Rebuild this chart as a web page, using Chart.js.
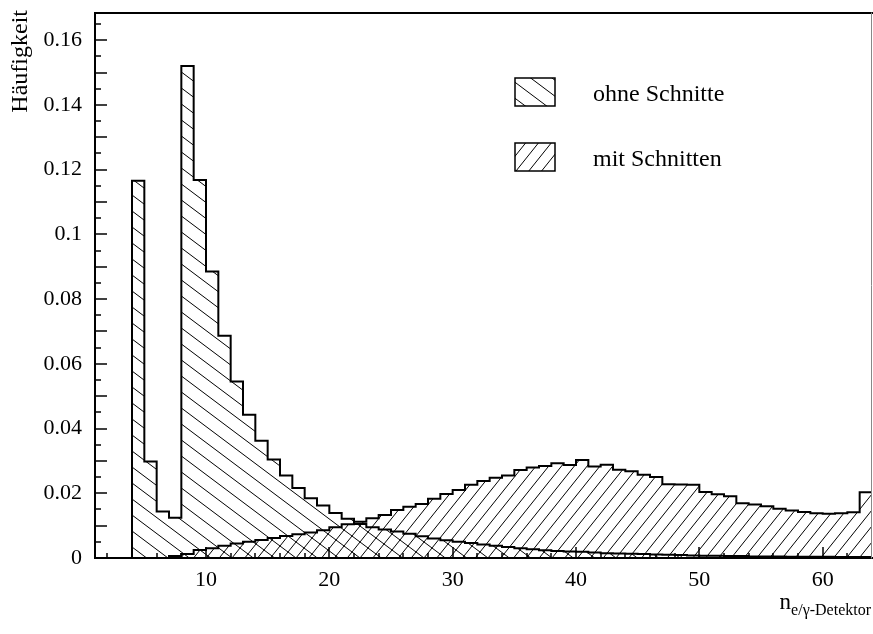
<!DOCTYPE html>
<html>
<head>
<meta charset="utf-8">
<script src="https://cdn.jsdelivr.net/npm/chart.js@4.4.0/dist/chart.umd.min.js"></script>
<style>
html,body{margin:0;padding:0;background:#fff;}
#wrap{width:873px;height:634px;position:relative;}
canvas{display:block;}
</style>
</head>
<body>
<div id="wrap"><canvas id="c" width="873" height="634"></canvas></div>
<script>
// ---- data (bin k covers [k, k+1]) ----
const ohneStart = 4;
const ohneValues = [
  0.1166, 0.0298, 0.0144, 0.0124, 0.152, 0.1168, 0.0885, 0.0687, 0.0545, 0.0443,
  0.0362, 0.0304, 0.0255, 0.0216, 0.0185, 0.0162, 0.0139, 0.0121, 0.0105, 0.0095,
  0.0088, 0.0082, 0.0075, 0.0067, 0.0060, 0.0055, 0.0050, 0.0046, 0.0042, 0.0038,
  0.0034, 0.0030, 0.0027, 0.0024, 0.0022, 0.0020, 0.0019, 0.0017, 0.0015, 0.0014,
  0.0013, 0.0012, 0.0011, 0.0010, 0.0009, 0.0008, 0.0007, 0.0007, 0.0006, 0.0006,
  0.0005, 0.0005, 0.0005, 0.0004, 0.0004, 0.0004, 0.0004, 0.0003, 0.0003, 0.0003
];
const mitStart = 7;
const mitValues = [
  0.0006, 0.0012, 0.0025, 0.0030, 0.0038, 0.0045, 0.0050, 0.0056, 0.0062, 0.0068,
  0.0073, 0.0079, 0.0086, 0.0095, 0.0104, 0.0112, 0.0123, 0.0133, 0.0148, 0.0158,
  0.0167, 0.0183, 0.0198, 0.0210, 0.0226, 0.0238, 0.0248, 0.0255, 0.0272, 0.0280,
  0.0284, 0.0293, 0.0287, 0.0303, 0.0283, 0.0288, 0.0273, 0.0268, 0.0257, 0.0250,
  0.0228, 0.0227, 0.0226, 0.0204, 0.0197, 0.0191, 0.0169, 0.0165, 0.0160, 0.0152,
  0.0147, 0.0142, 0.0138, 0.0137, 0.0138, 0.0141, 0.0203
];
const seriesNames = ['ohne Schnitte', 'mit Schnitten'];
const xTickLabels = [10, 20, 30, 40, 50, 60];
const yTickLabels = [0, 0.02, 0.04, 0.06, 0.08, 0.1, 0.12, 0.14, 0.16];
const xTitleMain = 'n';
const xTitleSub = 'e/\u03b3-Detektor';
const yTitle = 'H\u00e4ufigkeit';

const X_MIN = 1, X_MAX = 64, Y_MAX = 0.1684;
const FONT = '"Liberation Serif", "Times New Roman", serif';

function histPoints(start, values) {
  const pts = [{x: start, y: 0}];
  values.forEach((v, i) => pts.push({x: start + i, y: v}));
  const end = start + values.length;
  pts.push({x: end, y: values[values.length - 1]});
  pts.push({x: end, y: 0});
  return pts;
}

function makeHatch(slope) {
  const c = document.createElement('canvas');
  c.width = 64; c.height = 48;
  const g = c.getContext('2d');
  g.strokeStyle = '#000';
  g.lineWidth = 1;
  for (let k = -14; k <= 14; k++) {
    const c0 = k * 16;
    g.beginPath();
    g.moveTo(-30, c0 + slope * -30);
    g.lineTo(94, c0 + slope * 94);
    g.stroke();
  }
  return g.createPattern(c, 'repeat');
}
const hatchBack = makeHatch(0.75);   // "\\\"
const hatchFwd = makeHatch(-1.25);   // "///"

const framePlugin = {
  id: 'frame',
  afterDatasetsDraw(chart) {
    const {ctx, chartArea: a, scales: {x, y}} = chart;
    ctx.save();
    ctx.strokeStyle = '#000';
    ctx.lineCap = 'square';
    ctx.lineWidth = 2;
    ctx.beginPath();
    ctx.moveTo(a.right, a.top);
    ctx.lineTo(a.left, a.top);
    ctx.lineTo(a.left, a.bottom);
    ctx.lineTo(a.right, a.bottom);
    ctx.stroke();
    ctx.lineWidth = 1;
    ctx.strokeStyle = '#888';
    ctx.beginPath();
    ctx.moveTo(a.right - 0.5, a.top);
    ctx.lineTo(a.right - 0.5, a.bottom);
    ctx.stroke();
    // y ticks (inward)
    ctx.strokeStyle = '#000';
    ctx.lineWidth = 1.5;
    ctx.lineCap = 'butt';
    for (let i = 0; i * 0.005 <= Y_MAX; i++) {
      const py = Math.round(y.getPixelForValue(i * 0.005));
      const len = (i % 2 === 0) ? 12 : 6;
      ctx.beginPath();
      ctx.moveTo(a.left, py);
      ctx.lineTo(a.left + len, py);
      ctx.stroke();
    }
    // x ticks (inward)
    for (let v = 2; v < X_MAX; v += 2) {
      const px = Math.round(x.getPixelForValue(v));
      const len = (v % 10 === 0) ? 11 : 5;
      ctx.beginPath();
      ctx.moveTo(px, a.bottom);
      ctx.lineTo(px, a.bottom - len);
      ctx.stroke();
    }
    ctx.restore();
  },
  afterDraw(chart) {
    const {ctx} = chart;
    ctx.save();
    ctx.fillStyle = '#000';
    // legend
    const boxes = [[515, 78, hatchBack], [515, 143, hatchFwd]];
    boxes.forEach((b, i) => {
      ctx.fillStyle = b[2];
      ctx.fillRect(b[0], b[1], 40, 28);
      ctx.strokeStyle = '#000';
      ctx.lineWidth = 1.5;
      ctx.strokeRect(b[0], b[1], 40, 28);
      ctx.fillStyle = '#000';
      ctx.font = '24px ' + FONT;
      ctx.textAlign = 'left';
      ctx.textBaseline = 'alphabetic';
      ctx.fillText(seriesNames[i], 593, b[1] + 23);
    });
    // y title
    ctx.save();
    ctx.translate(27, 10);
    ctx.rotate(-Math.PI / 2);
    ctx.font = '24px ' + FONT;
    ctx.textAlign = 'right';
    ctx.textBaseline = 'alphabetic';
    ctx.fillText(yTitle, 0, 0);
    ctx.restore();
    // x title
    ctx.font = '16px ' + FONT;
    const subW = ctx.measureText(xTitleSub).width;
    const subX = 871 - subW;
    ctx.textAlign = 'left';
    ctx.fillText(xTitleSub, subX, 615);
    ctx.font = '23px ' + FONT;
    const nW = ctx.measureText(xTitleMain).width;
    ctx.fillText(xTitleMain, subX - nW, 609);
    ctx.restore();
  }
};

new Chart(document.getElementById('c'), {
  type: 'line',
  data: {
    datasets: [
      {
        label: seriesNames[0],
        data: histPoints(ohneStart, ohneValues),
        stepped: 'before',
        borderColor: '#000',
        borderWidth: 2,
        backgroundColor: hatchBack,
        fill: 'origin',
        pointRadius: 0,
        tension: 0
      },
      {
        label: seriesNames[1],
        data: histPoints(mitStart, mitValues),
        stepped: 'before',
        borderColor: '#000',
        borderWidth: 2,
        backgroundColor: hatchFwd,
        fill: 'origin',
        pointRadius: 0,
        tension: 0
      }
    ]
  },
  options: {
    responsive: false,
    animation: false,
    devicePixelRatio: 1,
    layout: {padding: {left: 0, right: 1, top: 13, bottom: 0}},
    plugins: {legend: {display: false}, tooltip: {enabled: false}},
    scales: {
      x: {
        type: 'linear',
        min: X_MIN,
        max: X_MAX,
        grid: {display: false, drawTicks: false},
        border: {display: false},
        afterBuildTicks: s => { s.ticks = xTickLabels.map(v => ({value: v})); },
        afterFit: s => { s.height = 76; s.paddingLeft = 0; s.paddingRight = 0; },
        ticks: {
          autoSkip: false,
          maxRotation: 0,
          padding: 9,
          color: '#000',
          font: {family: FONT, size: 22},
          callback: v => String(v)
        }
      },
      y: {
        type: 'linear',
        min: 0,
        max: Y_MAX,
        grid: {display: false, drawTicks: false},
        border: {display: false},
        afterBuildTicks: s => { s.ticks = yTickLabels.map(v => ({value: v})); },
        afterFit: s => { s.width = 95; s.paddingTop = 0; s.paddingBottom = 0; },
        ticks: {
          autoSkip: false,
          padding: 13,
          color: '#000',
          font: {family: FONT, size: 22},
          callback: v => String(+v.toFixed(3))
        }
      }
    }
  },
  plugins: [framePlugin]
});
</script>
</body>
</html>
